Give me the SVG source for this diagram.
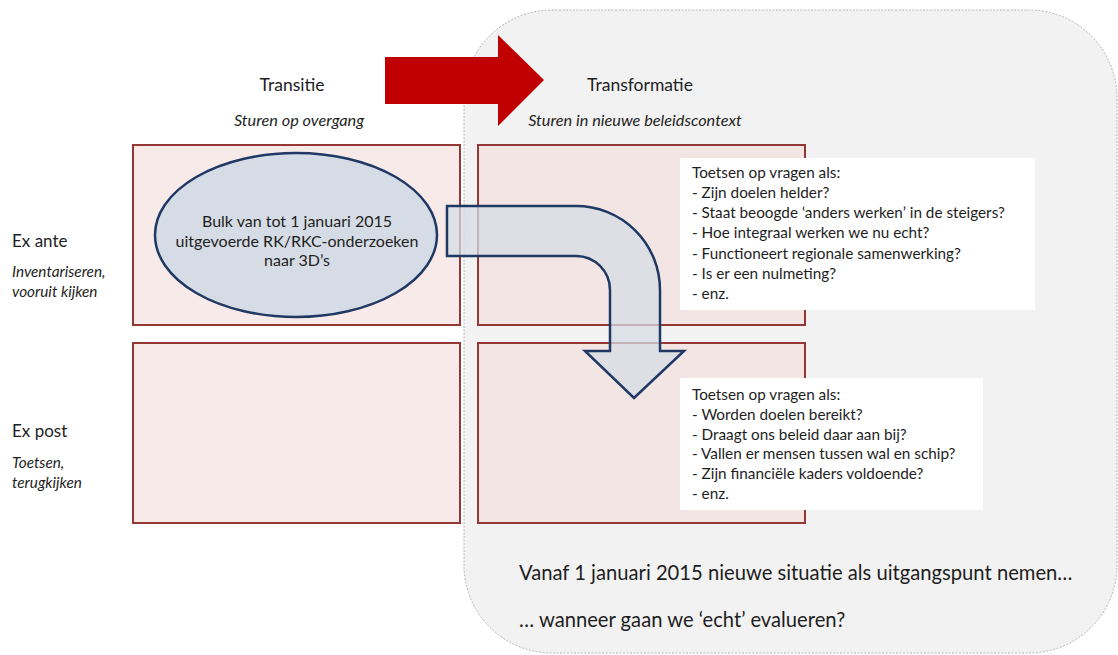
<svg xmlns="http://www.w3.org/2000/svg" width="1118" height="655" viewBox="0 0 1118 655">
<style>
text{font-family:Lato,"Open Sans","Liberation Sans",sans-serif;fill:#1e1e1e}
.h{font-size:17.5px}
.i{font-size:16.3px;font-style:italic}
.lh{font-size:17px}
.li{font-size:15.3px;font-style:italic}
.q{font-size:15.3px}
.e{font-size:16px}
.big{font-size:20.2px}
.cell{fill:#F2DCDB;fill-opacity:0.6;stroke:#953735;stroke-width:2}
.note{fill:#ffffff}
</style>
<rect width="1118" height="655" fill="#ffffff"/>
<g id="transformatie-zone">
<rect x="464" y="10" width="653" height="643" rx="88" ry="88" fill="#F2F2F2" stroke="#B4B4B4" stroke-width="1" stroke-dasharray="2,1.5"/>
</g>
<g id="red-arrow">
<polygon points="385,57 498,57 498,35 544,80 498,126 498,104 385,104" fill="#C00000"/>
</g>
<g id="headers">
<text class="h" x="292" y="91" text-anchor="middle">Transitie</text>
<text class="i" x="299" y="126" text-anchor="middle">Sturen op overgang</text>
<text class="h" x="640" y="91" text-anchor="middle">Transformatie</text>
<text class="i" x="635" y="126" text-anchor="middle">Sturen in nieuwe beleidscontext</text>
</g>
<g id="row-labels">
<text class="lh" x="12" y="247">Ex ante</text>
<text class="li" x="12" y="277">Inventariseren,</text>
<text class="li" x="12" y="297">vooruit kijken</text>
<text class="lh" x="12" y="437">Ex post</text>
<text class="li" x="12" y="468">Toetsen,</text>
<text class="li" x="12" y="488">terugkijken</text>
</g>
<g id="cell-exante-transitie"><rect class="cell" x="133" y="145" width="327" height="180"/></g>
<g id="cell-exante-transformatie"><rect class="cell" x="478" y="145" width="327" height="180"/></g>
<g id="cell-expost-transitie"><rect class="cell" x="133" y="343" width="327" height="180"/></g>
<g id="cell-expost-transformatie"><rect class="cell" x="478" y="343" width="327" height="180"/></g>
<g id="note-exante">
<rect class="note" x="680" y="158" width="355" height="152"/>
<text class="q" x="692" y="178">Toetsen op vragen als:</text>
<text class="q" x="692" y="198">- Zijn doelen helder?</text>
<text class="q" x="692" y="218">- Staat beoogde ‘anders werken’ in de steigers?</text>
<text class="q" x="692" y="238">- Hoe integraal werken we nu echt?</text>
<text class="q" x="692" y="259">- Functioneert regionale samenwerking?</text>
<text class="q" x="692" y="279">- Is er een nulmeting?</text>
<text class="q" x="692" y="299">- enz.</text>
</g>
<g id="note-expost">
<rect class="note" x="680" y="378" width="303" height="132"/>
<text class="q" x="692" y="400">Toetsen op vragen als:</text>
<text class="q" x="692" y="420">- Worden doelen bereikt?</text>
<text class="q" x="692" y="440">- Draagt ons beleid daar aan bij?</text>
<text class="q" x="692" y="459">- Vallen er mensen tussen wal en schip?</text>
<text class="q" x="692" y="479">- Zijn financiële kaders voldoende?</text>
<text class="q" x="692" y="499">- enz.</text>
</g>
<g id="bulk-ellipse">
<ellipse cx="296" cy="235" rx="141" ry="82" fill="#D6DCE5" stroke="#1F3864" stroke-width="2.5"/>
<text class="e" x="297" y="227" text-anchor="middle">Bulk van tot 1 januari 2015</text>
<text class="e" x="297" y="247" text-anchor="middle">uitgevoerde RK/RKC-onderzoeken</text>
<text class="e" x="297" y="266" text-anchor="middle">naar 3D’s</text>
</g>
<g id="connectors">
<path d="M447,206 L576,206 A84,84 0 0 1 660,290 L660,351 L684,351 L634,398 L585,351 L610,351 L610,290 A34,34 0 0 0 576,256 L447,256 Z" fill="#D6DCE5" fill-opacity="0.75" stroke="#1F3864" stroke-width="2.5" stroke-linejoin="miter"/>
</g>
<g id="conclusion">
<text class="big" x="519" y="580">Vanaf 1 januari 2015 nieuwe situatie als uitgangspunt nemen…</text>
<text class="big" x="519" y="627">… wanneer gaan we ‘echt’ evalueren?</text>
</g>
</svg>
